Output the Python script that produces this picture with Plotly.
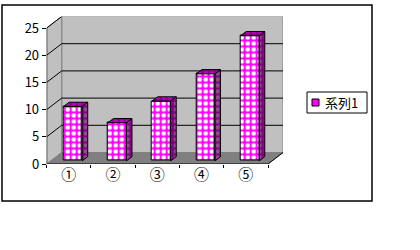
import plotly.graph_objects as go

# ---- data ----
categories = ["①", "②", "③", "④", "⑤"]
values = [10, 7, 11, 16, 23]
series_name = "系列1"
y_ticks = [0, 5, 10, 15, 20, 25]

# ---- geometry (pixels) ----
W, H = 420, 250
FX0, FX1 = 46.7, 268.0      # front x-axis span (category -0.5 .. 4.5)
FY0, FY25 = 164.0, 28.0     # front y px for 0 and 25
DXPX, DYPX = 15.0, 11.5     # depth offset in px
n = len(categories)
pxcat = (FX1 - FX0) / n
pxunit = (FY0 - FY25) / 25.0
DX = DXPX / pxcat
DY = DYPX / pxunit
YMAX = 25
xr = [-0.5, n - 0.5 + DX]
yr = [0, YMAX + DY]
xdom = [FX0 / W, (FX1 + DXPX) / W]
ydom = [(H - FY0) / H, (H - (FY25 - DYPX)) / H]

FRONT = 0.27   # bar front face depth fraction
DEPTH = 0.37   # bar depth fraction
BW = 0.42      # bar width (category units)

fig = go.Figure()

# bars: side and top faces (from the values)
for i, v in enumerate(values):
    xc = i + FRONT * DX
    b = FRONT * DY
    xl, xrr = xc - BW / 2, xc + BW / 2
    ddx, ddy = DEPTH * DX, DEPTH * DY
    fig.add_trace(go.Scatter(
        x=[xrr, xrr + ddx, xrr + ddx, xrr, xrr],
        y=[b, b + ddy, b + v + ddy, b + v, b],
        fill="toself", mode="lines", line=dict(color="black", width=1),
        fillcolor="#800080",
        fillpattern=dict(shape=".", fgcolor="#a0a0a0", bgcolor="#800080", size=6, solidity=0.4),
        showlegend=False, hoverinfo="skip"))
    fig.add_trace(go.Scatter(
        x=[xl, xrr, xrr + ddx, xl + ddx, xl],
        y=[b + v, b + v, b + v + ddy, b + v + ddy, b + v],
        fill="toself", mode="lines", line=dict(color="black", width=1),
        fillcolor="#800080",
        fillpattern=dict(shape=".", fgcolor="#FF00FF", bgcolor="#800080", size=6, solidity=0.5),
        showlegend=False, hoverinfo="skip"))

# bars: front faces
fig.add_trace(go.Bar(
    x=[i + FRONT * DX for i in range(n)],
    y=values,
    base=[FRONT * DY] * n,
    width=BW,
    name=series_name,
    marker=dict(color="#FF00FF",
                line=dict(color="black", width=1),
                pattern=dict(shape=".", fgcolor="white", bgcolor="#FF00FF",
                             size=6, solidity=0.45, fillmode="replace")),
    showlegend=False))

shapes = []
# back wall
shapes.append(dict(type="rect", xref="x", yref="y", layer="below",
                   x0=-0.5 + DX, x1=n - 0.5 + DX, y0=DY, y1=YMAX + DY,
                   fillcolor="#c0c0c0", line=dict(color="#808080", width=1)))
# side wall
shapes.append(dict(type="path", xref="x", yref="y", layer="below",
                   path=f"M{-0.5},{0} L{-0.5 + DX},{DY} L{-0.5 + DX},{YMAX + DY} L{-0.5},{YMAX} Z",
                   fillcolor="#c0c0c0", line=dict(color="#808080", width=1)))
# floor
shapes.append(dict(type="path", xref="x", yref="y", layer="below",
                   path=f"M{-0.5},{0} L{n - 0.5},{0} L{n - 0.5 + DX},{DY} L{-0.5 + DX},{DY} Z",
                   fillcolor="#808080", line=dict(color="#808080", width=1)))
# gridlines on back wall and side wall
for t in y_ticks[1:-1]:
    shapes.append(dict(type="line", xref="x", yref="y", layer="below",
                       x0=-0.5 + DX, x1=n - 0.5 + DX, y0=t + DY, y1=t + DY,
                       line=dict(color="black", width=1)))
for t in y_ticks[1:]:
    shapes.append(dict(type="line", xref="x", yref="y", layer="below",
                       x0=-0.5, x1=-0.5 + DX, y0=t, y1=t + DY,
                       line=dict(color="black", width=1)))
# floor right edge
shapes.append(dict(type="line", xref="x", yref="y",
                   x0=n - 0.5, x1=n - 0.5 + DX, y0=0, y1=DY, line=dict(color="black", width=1)))
# axis lines
shapes.append(dict(type="line", xref="x", yref="y",
                   x0=-0.5, x1=-0.5, y0=0, y1=YMAX, line=dict(color="black", width=1)))
shapes.append(dict(type="line", xref="x", yref="y",
                   x0=-0.5, x1=n - 0.5, y0=0, y1=0, line=dict(color="black", width=1)))
# outer chart border
shapes.append(dict(type="rect", xref="paper", yref="paper",
                   x0=2 / W, x1=372 / W, y0=(H - 201) / H, y1=(H - 5) / H,
                   line=dict(color="black", width=1.5), fillcolor="rgba(0,0,0,0)"))
# legend box and swatch
LX0, LX1, LY0, LY1 = 307, 367, 92, 113
shapes.append(dict(type="rect", xref="paper", yref="paper",
                   x0=LX0 / W, x1=LX1 / W, y0=(H - LY1) / H, y1=(H - LY0) / H,
                   line=dict(color="black", width=1), fillcolor="white"))
shapes.append(dict(type="rect", xref="paper", yref="paper",
                   x0=312 / W, x1=319 / W, y0=(H - 106) / H, y1=(H - 99) / H,
                   line=dict(color="black", width=1), fillcolor="#FF00FF"))

font = "Noto Sans CJK JP"
annotations = [dict(xref="paper", yref="paper", x=323 / W, y=(H - 102.5) / H,
                    xanchor="left", yanchor="middle", text=series_name, showarrow=False,
                    font=dict(size=13, family=font, color="black"))]

fig.update_layout(
    width=W, height=H,
    margin=dict(l=0, r=0, t=0, b=0, autoexpand=False),
    paper_bgcolor="white", plot_bgcolor="rgba(0,0,0,0)",
    font=dict(family=font, size=12, color="black"),
    shapes=shapes,
    annotations=annotations,
    bargap=0,
    xaxis=dict(domain=xdom, range=xr, showgrid=False, zeroline=False, showline=False,
               automargin=False,
               tickmode="array", tickvals=list(range(n)), ticktext=categories,
               ticks="", tickfont=dict(size=15, family=font),
               minor=dict(tickvals=[i + 0.5 for i in range(-1, n)], ticks="outside",
                          ticklen=3, tickcolor="black", tickwidth=1, showgrid=False),
               fixedrange=True),
    yaxis=dict(domain=ydom, range=yr, showgrid=False, zeroline=False, showline=False,
               automargin=False,
               tickmode="array", tickvals=y_ticks, ticks="outside", ticklen=4,
               tickcolor="black", tickfont=dict(size=13, family=font), fixedrange=True),
    showlegend=False,
)

fig.write_html("out.html")
